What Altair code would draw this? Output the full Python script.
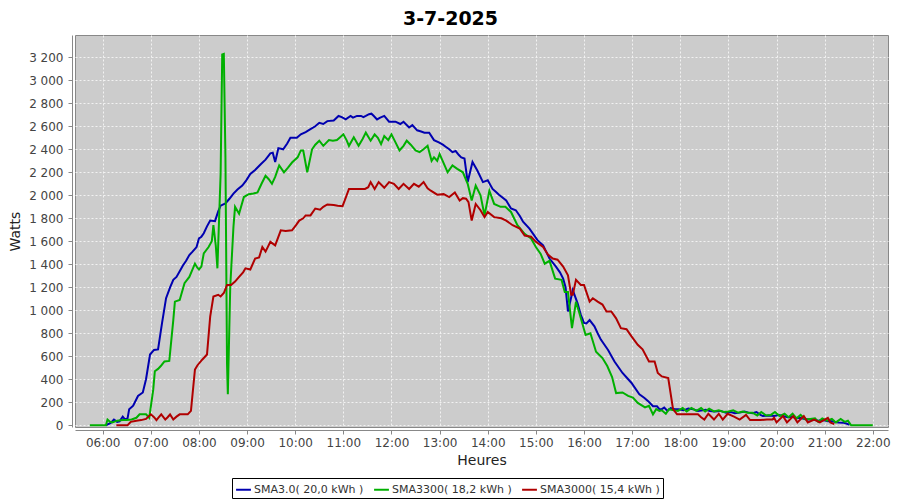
import altair as alt
import pandas as pd

# ---------------- data ----------------
series_names = ["SMA3.0( 20,0 kWh )", "SMA3300( 18,2 kWh )", "SMA3000( 15,4 kWh )"]
series_colors = ["#0000b0", "#00b000", "#b00000"]

blue_times = ["06:04","06:10","06:14","06:18","06:21","06:25","06:28","06:31","06:33","06:38",
              "06:44","06:50","06:54","06:59","07:04","07:09","07:14","07:19","07:24","07:28",
              "07:32","07:36","07:40","07:44","07:48","07:52","07:57","08:00","08:03","08:06",
              "08:10","08:14","08:20","08:24","08:27","08:33","08:38","08:43","08:48","08:54",
              "08:59","09:04","09:10","09:17","09:23","09:29","09:32","09:35","09:39","09:45",
              "09:50","09:54","10:02","10:07","10:13","10:19","10:25","10:30","10:35","10:40",
              "10:48","10:54","10:58","11:03","11:09","11:12","11:17","11:22","11:25","11:28",
              "11:32","11:35","11:38","11:42","11:46","11:51","11:57","12:05","12:11","12:15",
              "12:22","12:26","12:32","12:37","12:41","12:47","12:53","12:59","13:04","13:08",
              "13:12","13:16","13:20","13:24","13:27","13:31","13:35","13:41","13:47","13:54",
              "14:00","14:06","14:10","14:14","14:23","14:29","14:35","14:40","14:44","14:52",
              "15:02","15:09","15:17","15:25","15:30","15:34","15:37","15:40","15:43","15:46",
              "15:52","15:56","16:00","16:03","16:07","16:13","16:17","16:21","16:30","16:38",
              "16:48","16:59","17:09","17:15","17:20","17:26","17:31","17:34","17:37","17:40",
              "17:44","17:48","17:53","17:58","18:04","18:10","18:16","18:22","18:28","18:32",
              "18:37","18:43","18:50","18:57","19:03","19:08","19:14","19:20","19:25","19:30",
              "19:35","19:40","19:43","19:50","19:57","20:03","20:08","20:14","20:20","20:24",
              "20:29","20:35","20:40","20:46","20:52","20:58","21:04","21:07","21:12","21:17",
              "21:23","21:27","21:31"]
blue_values = [0,20,50,30,35,75,50,60,140,170,
               255,285,400,615,655,660,890,1105,1200,1265,
               1290,1340,1390,1430,1480,1510,1550,1625,1640,1670,
               1730,1780,1775,1860,1910,1930,1970,2015,2050,2085,
               2130,2185,2220,2270,2310,2365,2370,2290,2410,2400,
               2450,2500,2500,2530,2550,2575,2600,2630,2620,2645,
               2650,2690,2680,2660,2690,2675,2690,2690,2680,2690,
               2705,2710,2690,2660,2675,2690,2640,2640,2620,2640,
               2590,2610,2565,2555,2545,2545,2480,2460,2440,2420,
               2400,2375,2385,2350,2330,2320,2115,2290,2215,2115,
               2130,2055,2030,2005,1955,1885,1870,1820,1770,1710,
               1610,1565,1450,1380,1330,1275,1200,990,1080,1175,
               1060,960,890,885,915,860,800,745,655,555,
               455,370,270,240,210,165,165,140,140,155,
               125,150,140,140,130,145,140,125,130,135,
               125,120,125,110,115,105,110,120,110,105,
               115,90,80,85,80,90,80,70,75,60,
               65,55,50,50,40,45,35,37,30,25,
               23,15,5]

green_times = ["05:44","05:50","05:55","06:00","06:04","06:06","06:09","06:12","06:18","06:25",
               "06:30","06:36","06:42","06:46","06:50","06:54","06:58","07:03","07:05","07:09",
               "07:13","07:17","07:23","07:28","07:30","07:36","07:42","07:48","07:55","07:58",
               "08:00","08:03","08:06","08:12","08:16","08:18","08:21","08:23","08:27","08:29",
               "08:31","08:33","08:35","08:36","08:39","08:43","08:45","08:50","08:56","09:02",
               "09:08","09:13","09:18","09:23","09:27","09:31","09:35","09:40","09:46","09:51",
               "09:56","10:03","10:07","10:10","10:15","10:21","10:25","10:30","10:35","10:42",
               "10:47","10:52","10:56","11:00","11:04","11:07","11:13","11:19","11:24","11:28",
               "11:34","11:39","11:43","11:47","11:51","11:56","12:00","12:05","12:10","12:15",
               "12:19","12:24","12:30","12:35","12:40","12:45","12:50","12:53","12:57","13:00",
               "13:05","13:10","13:16","13:22","13:29","13:35","13:40","13:45","13:51","13:56",
               "14:02","14:08","14:16","14:22","14:29","14:37","14:46","14:54","15:00","15:06",
               "15:11","15:17","15:24","15:32","15:36","15:40","15:45","15:50","15:54","16:02",
               "16:08","16:15","16:23","16:29","16:35","16:40","16:48","16:55","17:01","17:07",
               "17:16","17:21","17:26","17:30","17:34","17:37","17:42","17:46","17:52","17:57",
               "18:03","18:08","18:14","18:20","18:26","18:31","18:36","18:42","18:48","18:54",
               "19:00","19:06","19:12","19:18","19:24","19:30","19:36","19:41","19:47","19:53",
               "19:58","20:04","20:10","20:15","20:20","20:25","20:30","20:36","20:42","20:48",
               "20:52","20:57","21:03","21:09","21:14","21:20","21:25","21:29","21:33","21:40",
               "21:50","22:00"]
green_values = [0,0,0,0,0,50,30,25,40,45,
                45,50,65,95,95,95,65,310,470,490,
                520,555,560,915,1075,1090,1235,1290,1405,1370,
                1355,1380,1495,1550,1600,1740,1560,1365,2185,3225,
                3230,2330,530,270,1205,1725,1900,1840,1985,2010,
                2015,2025,2100,2170,2140,2100,2160,2260,2200,2240,
                2285,2330,2390,2390,2200,2400,2440,2475,2430,2480,
                2475,2480,2505,2530,2480,2430,2505,2430,2490,2545,
                2475,2530,2500,2445,2515,2480,2530,2460,2390,2430,
                2475,2440,2390,2375,2400,2430,2300,2330,2300,2360,
                2280,2200,2260,2230,2200,2100,1955,2085,2000,1825,
                2040,1925,1900,1900,1855,1740,1665,1625,1550,1490,
                1405,1430,1275,1265,1160,1160,845,1075,980,785,
                800,640,585,515,420,280,285,255,240,195,
                155,170,95,140,125,130,100,140,130,125,
                150,120,150,125,150,120,145,120,130,115,
                120,130,110,120,110,110,85,115,85,90,
                115,80,100,70,100,60,90,50,55,60,
                30,60,40,55,25,55,30,40,0,0,
                0,0]

red_times = ["06:17","06:25","06:31","06:35","06:42","06:48","06:54","07:00","07:04","07:07",
             "07:10","07:13","07:18","07:21","07:24","07:28","07:32","07:36","07:41","07:46",
             "07:50","07:55","07:58","08:04","08:10","08:14","08:18","08:24","08:27","08:31",
             "08:35","08:40","08:45","08:50","08:55","08:58","09:04","09:10","09:15","09:19",
             "09:23","09:29","09:35","09:42","09:48","09:56","10:01","10:05","10:10","10:13",
             "10:19","10:25","10:31","10:35","10:40","10:48","10:53","10:59","11:03","11:07",
             "11:12","11:17","11:22","11:27","11:31","11:34","11:39","11:44","11:51","11:57",
             "12:03","12:09","12:15","12:22","12:28","12:34","12:40","12:45","12:49","12:57",
             "13:05","13:12","13:19","13:25","13:29","13:33","13:36","13:40","13:45","13:51",
             "13:56","14:00","14:08","14:17","14:23","14:31","14:40","14:46","14:54","15:00",
             "15:09","15:15","15:21","15:27","15:34","15:40","15:44","15:46","15:50","15:56",
             "16:00","16:07","16:11","16:17","16:23","16:28","16:34","16:40","16:46","16:53",
             "16:59","17:07","17:13","17:21","17:28","17:32","17:37","17:45","17:51","17:56",
             "18:05","18:15","18:22","18:26","18:30","18:35","18:42","18:48","18:53","18:59",
             "19:07","19:14","19:22","19:27","19:34","19:40","19:48","19:55","19:57","20:00",
             "20:08","20:13","20:21","20:26","20:34","20:39","20:47","20:54","21:04","21:07",
             "21:12"]
red_values = [0,0,0,30,40,45,55,95,70,45,
              70,95,50,70,95,50,75,95,95,95,
              125,485,520,570,615,945,1120,1135,1120,1150,
              1220,1220,1250,1290,1330,1365,1355,1450,1460,1550,
              1510,1595,1565,1695,1690,1695,1740,1780,1800,1825,
              1825,1885,1875,1900,1920,1915,1910,1905,1980,2055,
              2055,2055,2055,2055,2070,2115,2055,2115,2065,2115,
              2100,2055,2100,2055,2100,2075,2115,2060,2040,2005,
              2010,1985,2025,1955,1975,1970,1940,1780,1925,1870,
              1810,1855,1810,1800,1780,1740,1710,1650,1640,1595,
              1550,1485,1450,1440,1380,1305,1135,1135,1265,1220,
              1220,1075,1105,1075,1050,990,990,930,845,835,
              775,700,660,555,555,455,425,410,140,95,
              95,95,95,70,50,100,50,100,50,100,
              75,50,90,45,45,45,50,50,65,25,
              80,25,80,25,80,25,50,25,65,25,
              10]

hour_ticks = list(range(6, 23))
watt_ticks = list(range(0, 3201, 200))


def to_hours(t):
    hh, mm = t.split(":")
    return int(hh) + int(mm) / 60.0


rows = []
for order, (name, times, values) in enumerate(zip(
        series_names,
        [blue_times, green_times, red_times],
        [blue_values, green_values, red_values])):
    for t, v in zip(times, values):
        rows.append({"serie": name, "h": to_hours(t), "w": v, "o": order})
df = pd.DataFrame(rows)

FONT = "DejaVu Sans"

chart = alt.Chart(df).mark_line(strokeWidth=2, clip=True).encode(
    x=alt.X("h:Q",
            scale=alt.Scale(domain=[5.4245, 22.316], nice=False, zero=False),
            axis=alt.Axis(values=hour_ticks, title="Heures",
                          labelExpr="(datum.value < 10 ? '0' : '') + datum.value + ':00'",
                          offset=3, tickSize=4, labelPadding=3, titlePadding=5,
                          domainColor="#888888", tickColor="#888888",
                          gridColor="#f2f2f2", gridDash=[2, 2], gridWidth=1,
                          labelFont=FONT, labelFontSize=12, labelColor="#444444",
                          titleFont=FONT, titleFontSize=14, titleFontWeight="normal",
                          titleColor="#222222")),
    y=alt.Y("w:Q",
            scale=alt.Scale(domain=[-15, 3394], nice=False, zero=False),
            axis=alt.Axis(values=watt_ticks, title="Watts",
                          labelExpr="replace(format(datum.value, ','), ',', ' ')",
                          offset=3, tickSize=4, labelPadding=5, titlePadding=6,
                          domainColor="#888888", tickColor="#888888",
                          gridColor="#f2f2f2", gridDash=[2, 2], gridWidth=1,
                          labelFont=FONT, labelFontSize=12, labelColor="#444444",
                          titleFont=FONT, titleFontSize=14, titleFontWeight="normal",
                          titleColor="#222222")),
    color=alt.Color("serie:N",
                    scale=alt.Scale(domain=series_names, range=series_colors),
                    legend=alt.Legend(title=None, orient="none", legendX=157, legendY=443,
                                      direction="horizontal", strokeColor="black",
                                      padding=3, symbolType="stroke", symbolSize=220,
                                      symbolStrokeWidth=2, labelFont=FONT, labelFontSize=11,
                                      labelColor="#333333", columnPadding=6, labelOffset=2,
                                      fillColor="white")),
    order=alt.Order("o:Q"),
    detail="serie:N",
).properties(
    width=813,
    height=392,
    background="white",
    title=alt.TitleParams("3-7-2025", fontSize=19, fontWeight="bold", font=FONT,
                          color="black", dx=-31, offset=6, anchor="middle"),
    autosize=alt.AutoSizeParams(type="none"),
    padding={"left": 67, "top": 27, "right": 4, "bottom": 72},
).configure_view(
    fill="#cccccc", stroke="#888888", strokeWidth=1
)

chart.save("out.html", embed_options={"renderer": "svg", "actions": False})
